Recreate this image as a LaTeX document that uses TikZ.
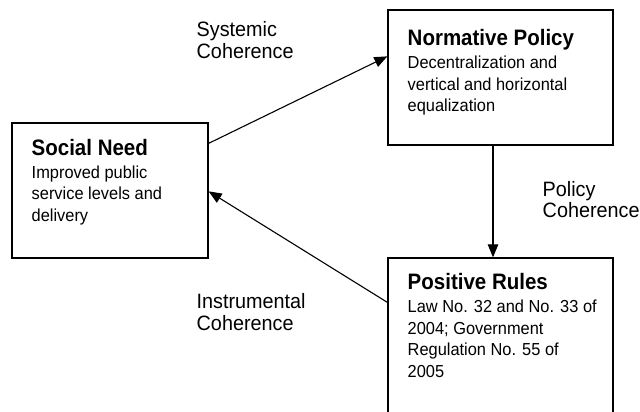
\documentclass[tikz,border=0pt]{standalone}
\usepackage{fontspec}
\usepackage{graphicx}
\setmainfont{Liberation Sans}
\usetikzlibrary{arrows.meta}
\newcommand{\vstretch}[2]{\scalebox{1}[#1]{#2}}
\begin{document}
\begin{tikzpicture}[x=1pt,y=-1pt,
  box/.style={draw,line width=1.3pt,inner sep=0pt},
  ttl/.style={anchor=base west,inner sep=0pt,font=\fontsize{20.5pt}{24pt}\selectfont\bfseries},
  bodytxt/.style={anchor=base west,inner sep=0pt,font=\fontsize{16.4pt}{20.4pt}\selectfont},
  lbl/.style={anchor=base west,inner sep=0pt,font=\fontsize{19.8pt}{20.9pt}\selectfont},
  conn/.style={line width=1.1pt,-{Triangle[length=13pt,width=10.5pt]}}]
\useasboundingbox (0,0) rectangle (640,412);
\clip (0,0) rectangle (640,412);
% boxes
\node[box,minimum width=196pt,minimum height=135pt] (sn) at (110,190.5) {};
\node[box,minimum width=225pt,minimum height=135pt] (np) at (500.5,77.5) {};
\node[box,minimum width=225pt,minimum height=200pt] (pr) at (500.5,358) {};
% box texts
\node[ttl] (snT) at (31.5,155) {\vstretch{1.09}{Social Need}};
\node[bodytxt] (snB) at (31.5,178) {\vstretch{1.06}{\parbox[t]{175pt}{Improved public\\service levels and\\delivery}}};
\node[ttl] (npT) at (407.5,46) {\vstretch{1.09}{Normative Policy}};
\node[bodytxt] (npB) at (407.5,68.5) {\vstretch{1.06}{\parbox[t]{200pt}{Decentralization and\\vertical and horizontal\\equalization}}};
\node[ttl] (prT) at (407.5,289.5) {\vstretch{1.09}{Positive Rules}};
\node[bodytxt] (prB) at (407.5,312.5) {\vstretch{1.06}{\parbox[t]{200pt}{Law No. 32 and No. 33 of\\2004; Government\\Regulation No. 55 of\\2005}}};
% labels
\node[lbl] (l1) at (196.5,37) {\vstretch{1.05}{\parbox[t]{120pt}{Systemic\\Coherence}}};
\node[lbl] (l2) at (196.5,308.5) {\vstretch{1.05}{\parbox[t]{120pt}{Instrumental\\Coherence}}};
\node[lbl] (l3) at (542.5,196) {\vstretch{1.05}{\parbox[t]{120pt}{Policy\\Coherence}}};
% connectors
\draw[conn] ([yshift=-21pt]sn.north east) -- ([yshift=-47pt]np.north west);
\draw[conn] ([xshift=-7.5pt]np.south) -- ([xshift=-7.5pt]pr.north);
\draw[conn] ([yshift=-45pt]pr.north west) -- ([yshift=-69pt]sn.north east);
\end{tikzpicture}
\end{document}
